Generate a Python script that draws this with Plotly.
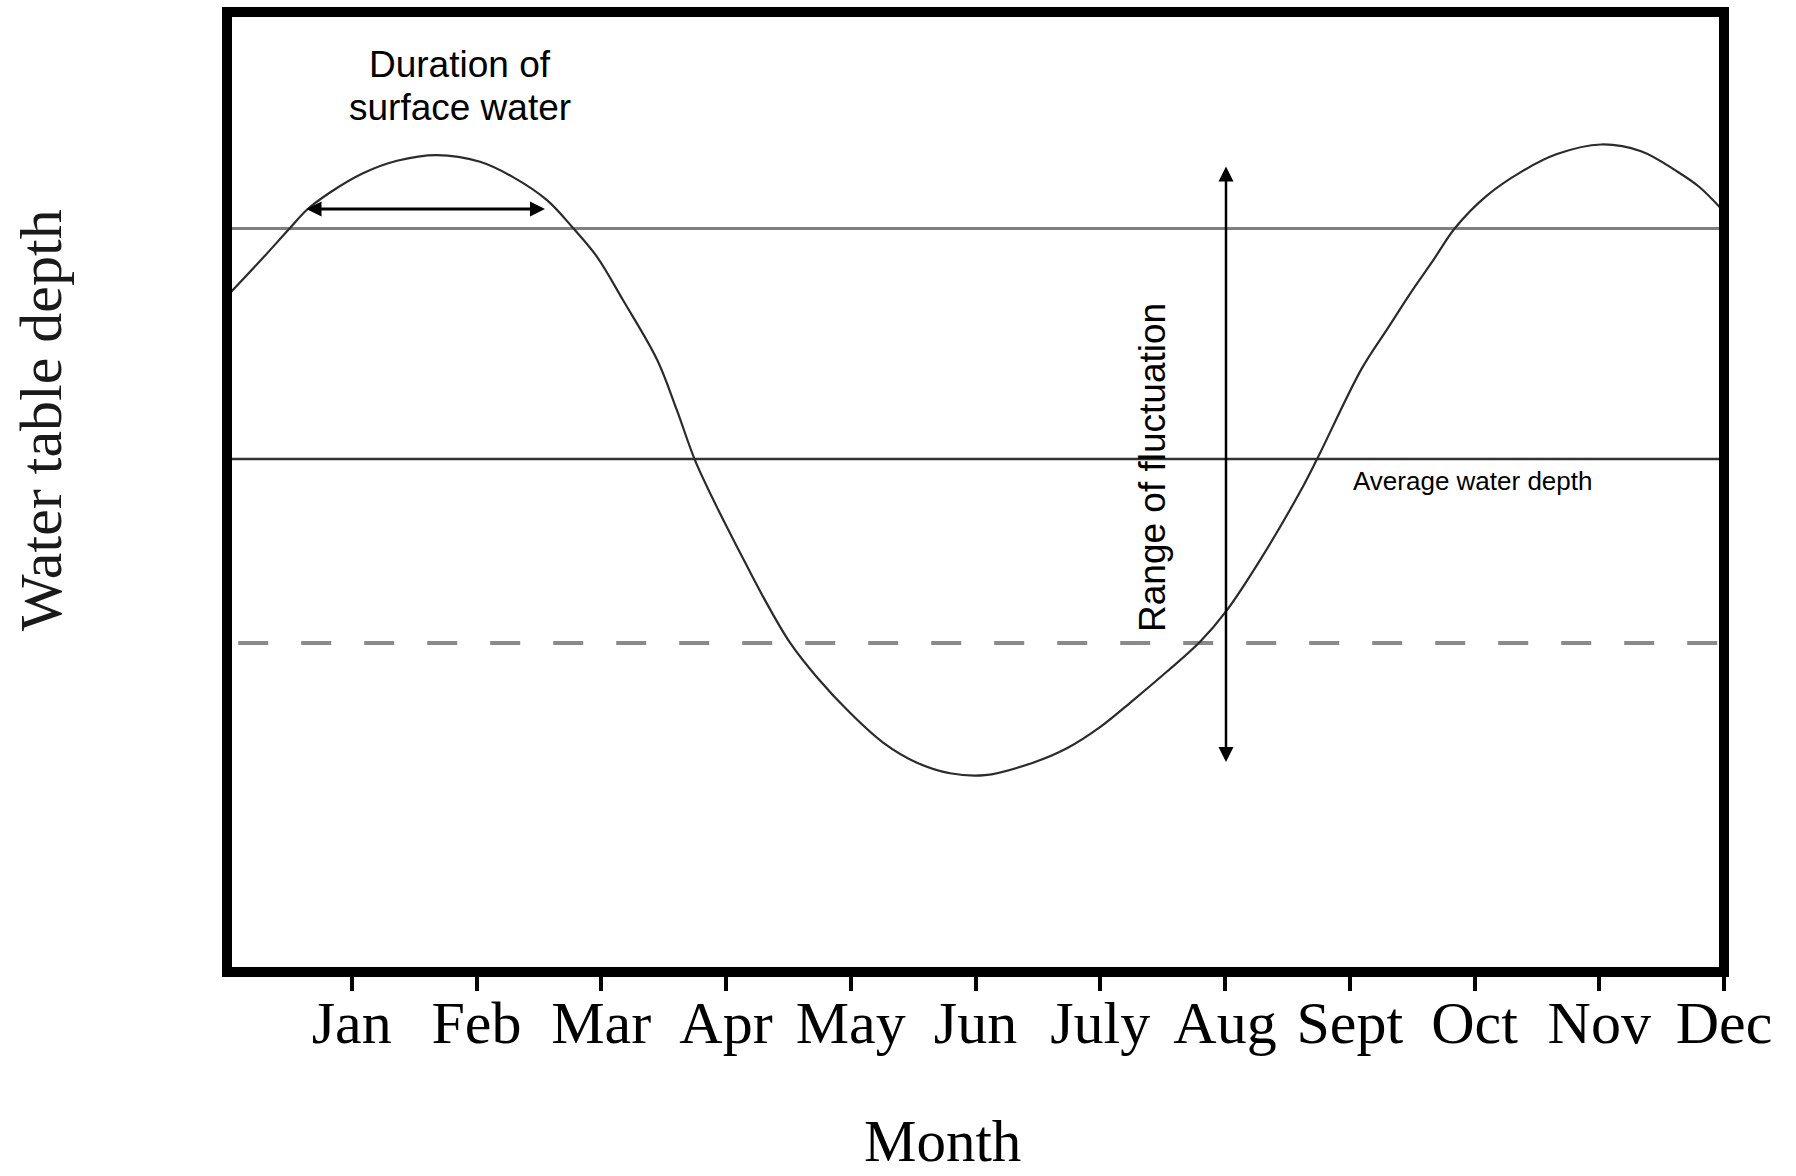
import plotly.graph_objects as go

# ---------------- data ----------------
month_labels = ["Jan", "Feb", "Mar", "Apr", "May", "Jun", "July", "Aug", "Sept", "Oct", "Nov", "Dec"]
month_ticks = [1, 2, 3, 4, 5, 6, 7, 8, 9, 10, 11, 12]

# water table curve (month position, relative level 0-100; higher = shallower)
curve_month = [0.0, 0.289, 0.505, 0.641, 0.826, 1.09, 1.363, 1.683, 2.028, 2.293, 2.565, 2.774,
               2.966, 3.174, 3.447, 3.607, 3.752, 3.928, 4.112, 4.297, 4.513, 4.729, 4.994,
               5.259, 5.531, 5.796, 6.076, 6.461, 6.733, 6.998, 7.263, 7.535, 7.8, 8.016,
               8.281, 8.601, 8.737, 9.098, 9.307, 9.491, 9.667, 9.844, 10.092, 10.381,
               10.661, 11.014, 11.335, 11.623, 11.8, 12.0]
curve_level = [70.4, 74.4, 77.5, 79.4, 81.2, 83.2, 84.5, 85.1, 84.4, 82.8, 80.4, 77.5,
               74.5, 70.0, 63.8, 58.5, 53.3, 48.4, 43.7, 39.1, 34.3, 30.7, 27.0,
               23.9, 21.8, 20.7, 20.5, 21.8, 23.3, 25.5, 28.3, 31.3, 34.4, 37.7,
               42.9, 50.0, 53.4, 62.9, 67.1, 70.8, 74.1, 77.5, 80.8, 83.4,
               85.2, 86.2, 85.5, 83.4, 81.8, 79.2]

surface_level = 77.45
average_level = 53.44
low_level = 34.27

duration_from, duration_to, duration_level = 0.625, 2.549, 79.48
range_month, range_top, range_bottom = 8.008, 84.06, 21.88

X_RANGE = [0, 12]
Y_RANGE = [0, 100]

# ---------------- figure ----------------
fig = go.Figure()

fig.add_trace(go.Scatter(x=[X_RANGE[0], X_RANGE[1]], y=[surface_level, surface_level],
                         mode="lines", line=dict(color="#7f7f7f", width=3),
                         hoverinfo="skip", showlegend=False))
fig.add_trace(go.Scatter(x=[X_RANGE[0], X_RANGE[1]], y=[average_level, average_level],
                         mode="lines", line=dict(color="#333333", width=2.5),
                         hoverinfo="skip", showlegend=False))
fig.add_trace(go.Scatter(x=[0.09, X_RANGE[1]], y=[low_level, low_level],
                         mode="lines", line=dict(color="#8a8a8a", width=4, dash="30px,33px"),
                         hoverinfo="skip", showlegend=False))
fig.add_trace(go.Scatter(x=curve_month, y=curve_level, mode="lines",
                         line=dict(color="#2b2b2b", width=2.2, shape="spline", smoothing=1.0),
                         hoverinfo="skip", showlegend=False))

annotations = []
# duration arrow (double headed)
annotations.append(dict(x=duration_to, y=duration_level, ax=duration_from, ay=duration_level,
                        xref="x", yref="y", axref="x", ayref="y", text="", showarrow=True,
                        arrowhead=2, startarrowhead=2, arrowside="end+start",
                        arrowwidth=3, arrowsize=1, startarrowsize=1, arrowcolor="black"))
# range arrow
annotations.append(dict(x=range_month, y=range_bottom, ax=range_month, ay=range_top,
                        xref="x", yref="y", axref="x", ayref="y", text="", showarrow=True,
                        arrowhead=2, startarrowhead=2, arrowside="end+start",
                        arrowwidth=2.5, arrowsize=1.2, startarrowsize=1.2, arrowcolor="black"))

W, H = 1796, 1176
ML, MR, MT, MB = 227, 72, 12, 204
PW, PH = W - ML - MR, H - MT - MB


def px(xp):
    return (xp - ML) / PW


def py(yp):
    return (H - MB - yp) / PH


sans = "Liberation Sans, Arial, sans-serif"
serif = "Liberation Serif, Times New Roman, serif"

annotations.append(dict(x=px(460), y=py(64), xref="paper", yref="paper",
                        text="Duration of", showarrow=False,
                        font=dict(family=sans, size=37, color="black"),
                        xanchor="center", yanchor="middle"))
annotations.append(dict(x=px(460), y=py(107), xref="paper", yref="paper",
                        text="surface water", showarrow=False,
                        font=dict(family=sans, size=37, color="black"),
                        xanchor="center", yanchor="middle"))
annotations.append(dict(x=px(1152), y=py(468), xref="paper", yref="paper",
                        text="Range of fluctuation", showarrow=False, textangle=-90,
                        font=dict(family=sans, size=37, color="black"),
                        xanchor="center", yanchor="middle"))
annotations.append(dict(x=px(1472), y=py(481), xref="paper", yref="paper",
                        text="Average water depth", showarrow=False,
                        font=dict(family=sans, size=26, color="black"),
                        xanchor="center", yanchor="middle"))
annotations.append(dict(x=px(41), y=py(420), xref="paper", yref="paper",
                        text="Water table depth", showarrow=False, textangle=-90,
                        font=dict(family=serif, size=60, color="#1a1a1a"),
                        xanchor="center", yanchor="middle"))
annotations.append(dict(x=px(942), y=py(1141), xref="paper", yref="paper",
                        text="Month", showarrow=False,
                        font=dict(family=serif, size=59, color="black"),
                        xanchor="center", yanchor="middle"))

fig.update_layout(
    width=W, height=H, autosize=False,
    margin=dict(l=ML, r=MR, t=MT, b=MB, pad=0),
    paper_bgcolor="white", plot_bgcolor="white",
    xaxis=dict(range=X_RANGE, tickvals=month_ticks, ticktext=month_labels,
               ticks="outside", ticklen=18, tickwidth=4, tickcolor="black",
               ticklabelstandoff=-20,
               showgrid=False, zeroline=False, showline=False, tickangle=0,
               tickfont=dict(family=serif, size=60, color="black")),
    yaxis=dict(range=Y_RANGE, visible=False, showgrid=False, zeroline=False),
    annotations=annotations,
    shapes=[dict(type="rect", xref="paper", yref="paper", x0=0, x1=1, y0=0, y1=1,
                 line=dict(color="black", width=10), layer="above")],
)

fig.write_html("out.html", config={"displayModeBar": False},
               post_script="document.body.style.margin='0';document.body.style.overflow='hidden';")
